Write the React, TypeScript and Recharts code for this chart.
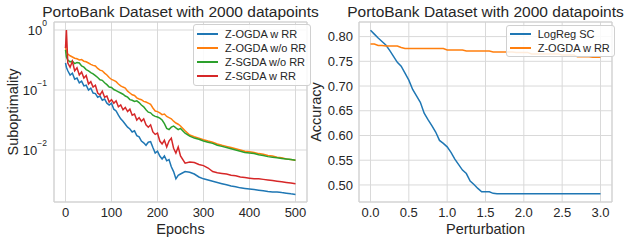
import { CartesianGrid, Label, Legend, Line, LineChart, ReferenceArea, XAxis, YAxis } from "recharts";

// left panel: suboptimality per epoch (log scale)
const epochs = [
  0, 2, 5, 10, 15, 20, 25, 30, 35, 40, 45, 50, 55, 60, 65, 70, 75, 80, 85, 90, 95, 100, 105, 110, 115,
  120, 125, 130, 135, 140, 145, 150, 155, 160, 165, 170, 175, 180, 185, 190, 195, 200, 205, 210, 215,
  220, 225, 230, 235, 240, 245, 250, 260, 270, 280, 290, 300, 310, 320, 330, 340, 350, 360, 370, 380,
  390, 400, 410, 420, 430, 440, 450, 460, 470, 480, 490, 500,
];
const zOgdaRR = [
  0.282, 0.24, 0.209, 0.178, 0.191, 0.151, 0.158, 0.132, 0.141, 0.117, 0.12, 0.1, 0.107, 0.0891, 0.0871,
  0.0759, 0.0794, 0.0676, 0.0708, 0.0603, 0.0562, 0.0603, 0.0479, 0.0447, 0.038, 0.0331, 0.0302, 0.0269,
  0.024, 0.0224, 0.02, 0.0209, 0.0174, 0.0166, 0.0141, 0.0132, 0.012, 0.0135, 0.0138, 0.011, 0.00891,
  0.00955, 0.00794, 0.00708, 0.00794, 0.00661, 0.00692, 0.00525, 0.00437, 0.00331, 0.0038, 0.00398,
  0.00437, 0.00427, 0.00398, 0.00355, 0.00331, 0.00316, 0.00302, 0.00288, 0.00275, 0.00263, 0.00251,
  0.00245, 0.00234, 0.00229, 0.00224, 0.00219, 0.00214, 0.00209, 0.00204, 0.002, 0.002, 0.00195, 0.00191,
  0.00186, 0.00182,
];
const zOgdaNoRR = [
  0.525, 0.437, 0.398, 0.372, 0.355, 0.339, 0.331, 0.316, 0.322, 0.302, 0.295, 0.282, 0.268, 0.257, 0.251,
  0.229, 0.214, 0.209, 0.191, 0.178, 0.162, 0.15, 0.145, 0.138, 0.126, 0.117, 0.112, 0.108, 0.0955, 0.0891,
  0.0832, 0.0813, 0.0741, 0.0708, 0.069, 0.0646, 0.0631, 0.0603, 0.0575, 0.0501, 0.0447, 0.0437, 0.0417,
  0.0389, 0.0398, 0.0363, 0.0347, 0.0331, 0.0302, 0.0282, 0.0269, 0.0251, 0.0209, 0.0178, 0.0166, 0.0158,
  0.0148, 0.0141, 0.0135, 0.0126, 0.012, 0.0115, 0.011, 0.0105, 0.01, 0.00955, 0.00933, 0.00912, 0.00871,
  0.00851, 0.00813, 0.00794, 0.00759, 0.00741, 0.00708, 0.00692, 0.00676,
];
const zSgdaNoRR = [
  0.468, 0.355, 0.316, 0.295, 0.302, 0.275, 0.288, 0.282, 0.251, 0.24, 0.219, 0.209, 0.195, 0.186, 0.174,
  0.162, 0.148, 0.145, 0.132, 0.123, 0.112, 0.11, 0.102, 0.0977, 0.0933, 0.0891, 0.0851, 0.0794, 0.0759,
  0.0692, 0.0676, 0.0646, 0.0661, 0.0617, 0.0562, 0.0525, 0.0468, 0.0427, 0.0417, 0.038, 0.0363, 0.0355,
  0.0339, 0.0316, 0.0275, 0.0229, 0.0219, 0.024, 0.0251, 0.0234, 0.0219, 0.0229, 0.0191, 0.017, 0.0158,
  0.0151, 0.0141, 0.0135, 0.0129, 0.012, 0.0115, 0.011, 0.0105, 0.01, 0.00955, 0.00912, 0.00891, 0.00871,
  0.00832, 0.00813, 0.00776, 0.00759, 0.00741, 0.00724, 0.00708, 0.00692, 0.00676,
];
const zSgdaRR = [
  0.501, 1.0, 0.282, 0.24, 0.302, 0.209, 0.234, 0.178, 0.2, 0.158, 0.174, 0.126, 0.138, 0.112, 0.12,
  0.0891, 0.0832, 0.0955, 0.0759, 0.0794, 0.0631, 0.0692, 0.0603, 0.0661, 0.0525, 0.0562, 0.0468, 0.0513,
  0.0437, 0.0479, 0.038, 0.0398, 0.0316, 0.0347, 0.0302, 0.0331, 0.0263, 0.024, 0.0263, 0.02, 0.0182,
  0.0191, 0.0141, 0.0126, 0.0145, 0.0112, 0.0141, 0.0158, 0.0107, 0.00891, 0.0112, 0.00794, 0.00603,
  0.00631, 0.00617, 0.00575, 0.0055, 0.00501, 0.00437, 0.00417, 0.00407, 0.00398, 0.0038, 0.00372, 0.00355,
  0.00347, 0.00339, 0.00331, 0.00331, 0.00324, 0.00316, 0.00309, 0.00302, 0.00295, 0.00288, 0.00282,
  0.00275,
];
const epochTicks = [0, 100, 200, 300, 400, 500];
const logTicks = [0.01, 0.1, 1];
const subNames = ["Z-OGDA w RR", "Z-OGDA w/o RR", "Z-SGDA w/o RR", "Z-SGDA w RR"];

// right panel: accuracy vs perturbation
const perturbation = [
  0, 0.05, 0.1, 0.15, 0.2, 0.25, 0.3, 0.35, 0.4, 0.45, 0.5, 0.55, 0.6, 0.65, 0.7, 0.75, 0.8, 0.85, 0.9,
  0.95, 1, 1.05, 1.1, 1.15, 1.2, 1.25, 1.3, 1.35, 1.4, 1.45, 1.5, 1.55, 1.6, 1.65, 1.7, 1.75, 1.8, 1.85,
  1.9, 1.95, 2, 2.05, 2.1, 2.15, 2.2, 2.25, 2.3, 2.35, 2.4, 2.45, 2.5, 2.55, 2.6, 2.65, 2.7, 2.75, 2.8,
  2.85, 2.9, 2.95, 3,
];
const logRegSC = [
  0.813, 0.805, 0.797, 0.79, 0.783, 0.772, 0.76, 0.748, 0.74, 0.726, 0.712, 0.693, 0.68, 0.667, 0.645,
  0.632, 0.62, 0.607, 0.59, 0.584, 0.577, 0.566, 0.552, 0.541, 0.53, 0.523, 0.508, 0.501, 0.493, 0.486,
  0.486, 0.486, 0.483, 0.482, 0.482, 0.482, 0.482, 0.482, 0.482, 0.482, 0.482, 0.482, 0.482, 0.482, 0.482,
  0.482, 0.482, 0.482, 0.482, 0.482, 0.482, 0.482, 0.482, 0.482, 0.482, 0.482, 0.482, 0.482, 0.482, 0.482,
  0.482,
];
const zOgdaAcc = [
  0.785, 0.785, 0.782, 0.782, 0.781, 0.781, 0.781, 0.781, 0.778, 0.776, 0.776, 0.776, 0.776, 0.776, 0.776,
  0.776, 0.776, 0.776, 0.776, 0.776, 0.773, 0.773, 0.773, 0.773, 0.773, 0.771, 0.771, 0.771, 0.771, 0.771,
  0.771, 0.771, 0.769, 0.769, 0.769, 0.769, 0.769, 0.769, 0.768, 0.768, 0.768, 0.768, 0.765, 0.765, 0.765,
  0.765, 0.765, 0.765, 0.765, 0.765, 0.763, 0.763, 0.763, 0.763, 0.759, 0.759, 0.759, 0.759, 0.758, 0.758,
  0.758,
];
const pertTicks = [0, 0.5, 1, 1.5, 2, 2.5, 3];
const accTicks = [0.5, 0.55, 0.6, 0.65, 0.7, 0.75, 0.8];
const accNames = ["LogReg SC", "Z-OGDA w RR"];

const INK = "#262626";
const GRID = "#d9d9d9";
const EDGE = "#d0d0d0";
const FONT = '"Liberation Sans", Arial, sans-serif';
const BLUE = "#1f77b4";
const ORANGE = "#ff7f0e";
const GREEN = "#2ca02c";
const RED = "#d62728";
const TICK = 13;
const LABEL = 14.5;

const subData = epochs.map((e, i) => ({
  epoch: e,
  ogdaRR: zOgdaRR[i],
  ogdaNoRR: zOgdaNoRR[i],
  sgdaNoRR: zSgdaNoRR[i],
  sgdaRR: zSgdaRR[i],
}));
const accData = perturbation.map((p, i) => ({ p, logreg: logRegSC[i], zogda: zOgdaAcc[i] }));

function LogTick({ x, y, payload }: { x?: number; y?: number; payload?: { value: number } }) {
  const exp = Math.round(Math.log10(payload?.value ?? 1));
  return (
    <text x={x} y={y} dy={4.5} textAnchor="end" fill={INK} fontSize={TICK}>
      <tspan>10</tspan>
      <tspan dy={-8.5} fontSize={8.5}>{exp === 0 ? "0" : "\u2212" + Math.abs(exp)}</tspan>
    </text>
  );
}

function BoxLegend({ payload, padY }: { payload?: { value: string; color: string }[]; padY: number }) {
  return (
    <div
      style={{
        background: "rgba(255,255,255,0.85)",
        border: `1px solid ${EDGE}`,
        borderRadius: 3,
        padding: `${padY}px 4px ${padY}px 3px`,
        fontSize: 11,
        color: INK,
      }}
    >
      {(payload ?? []).map((p) => (
        <div key={p.value} style={{ display: "flex", alignItems: "center", height: 14, whiteSpace: "nowrap" }}>
          <span style={{ display: "inline-block", width: 21, height: 2, background: p.color, marginRight: 7 }} />
          {p.value}
        </div>
      ))}
    </div>
  );
}

function Title({ center }: { center: number }) {
  return (
    <div
      style={{
        position: "absolute",
        left: center - 200,
        top: 3.5,
        width: 400,
        textAlign: "center",
        fontSize: 15.5,
        lineHeight: "15px",
        color: INK,
        whiteSpace: "nowrap",
      }}
    >
      PortoBank Dataset with 2000 datapoints
    </div>
  );
}

export default function App() {
  return (
    <div
      style={{
        position: "absolute",
        left: 0,
        top: 0,
        width: 626,
        height: 244,
        background: "#fff",
        fontFamily: FONT,
      }}
    >
      <div style={{ position: "absolute", left: 0, top: 0, width: 313, height: 244 }}>
        <LineChart width={313} height={244} data={subData} margin={{ top: 22, right: 6, bottom: 12, left: 0 }}>
          <CartesianGrid stroke={GRID} strokeWidth={1} />
          <ReferenceArea x1={-25} x2={525} y1={0.00136} y2={1.36} fill="none" stroke={EDGE} strokeWidth={1} />
          <XAxis
            dataKey="epoch"
            type="number"
            domain={[-25, 525]}
            ticks={epochTicks}
            height={30}
            tickLine={false}
            axisLine={false}
            tickSize={4}
            tick={{ fill: INK, fontSize: TICK }}
          >
            <Label
              content={() => (
                <text x={180.5} y={234} textAnchor="middle" fill={INK} fontSize={LABEL}>
                  Epochs
                </text>
              )}
            />
          </XAxis>
          <YAxis
            type="number"
            scale="log"
            domain={[0.00136, 1.36]}
            allowDataOverflow
            ticks={logTicks}
            width={54}
            tickLine={false}
            axisLine={false}
            tickSize={4}
            tickMargin={3}
            tick={<LogTick />}
          >
            <Label
              content={() => (
                <text x={18} y={112} transform="rotate(-90 18 112)" textAnchor="middle" fill={INK} fontSize={LABEL}>
                  Suboptimality
                </text>
              )}
            />
          </YAxis>
          <Line dataKey="ogdaRR" name={subNames[0]} stroke={BLUE} strokeWidth={1.5} dot={false} isAnimationActive={false} />
          <Line dataKey="ogdaNoRR" name={subNames[1]} stroke={ORANGE} strokeWidth={1.5} dot={false} isAnimationActive={false} />
          <Line dataKey="sgdaNoRR" name={subNames[2]} stroke={GREEN} strokeWidth={1.5} dot={false} isAnimationActive={false} />
          <Line dataKey="sgdaRR" name={subNames[3]} stroke={RED} strokeWidth={1.5} dot={false} isAnimationActive={false} />
          <Legend
            layout="vertical"
            align="center"
            verticalAlign="middle"
            itemSorter={(item) => subNames.indexOf(String(item.value))}
            wrapperStyle={{ left: 193, top: 24, width: "auto", height: "auto" }}
            content={(props) => <BoxLegend padY={2} payload={props.payload as { value: string; color: string }[]} />}
          />
        </LineChart>
        <Title center={180.5} />
      </div>
      <div style={{ position: "absolute", left: 300, top: 0, width: 326, height: 244 }}>
        <LineChart width={326} height={244} data={accData} margin={{ top: 22, right: 14, bottom: 12, left: 13 }}>
          <CartesianGrid stroke={GRID} strokeWidth={1} />
          <ReferenceArea x1={-0.15} x2={3.15} y1={0.4655} y2={0.8295} fill="none" stroke={EDGE} strokeWidth={1} />
          <XAxis
            dataKey="p"
            type="number"
            domain={[-0.15, 3.15]}
            ticks={pertTicks}
            height={30}
            tickLine={false}
            axisLine={false}
            tickSize={4}
            tickFormatter={(v: number) => v.toFixed(1)}
            tick={{ fill: INK, fontSize: TICK }}
          >
            <Label
              content={() => (
                <text x={185.5} y={234} textAnchor="middle" fill={INK} fontSize={LABEL}>
                  Perturbation
                </text>
              )}
            />
          </XAxis>
          <YAxis
            type="number"
            domain={[0.4655, 0.8295]}
            allowDataOverflow
            ticks={accTicks}
            width={46}
            tickLine={false}
            axisLine={false}
            tickSize={4}
            tickMargin={2}
            tickFormatter={(v: number) => v.toFixed(2)}
            tick={{ fill: INK, fontSize: TICK }}
          >
            <Label
              content={() => (
                <text x={20.5} y={112} transform="rotate(-90 20.5 112)" textAnchor="middle" fill={INK} fontSize={LABEL}>
                  Accuracy
                </text>
              )}
            />
          </YAxis>
          <Line dataKey="logreg" name={accNames[0]} stroke={BLUE} strokeWidth={1.5} dot={false} isAnimationActive={false} />
          <Line dataKey="zogda" name={accNames[1]} stroke={ORANGE} strokeWidth={1.5} dot={false} isAnimationActive={false} />
          <Legend
            layout="vertical"
            align="center"
            verticalAlign="middle"
            itemSorter={(item) => accNames.indexOf(String(item.value))}
            wrapperStyle={{ left: 205.7, top: 25, width: "auto", height: "auto" }}
            content={(props) => <BoxLegend padY={1} payload={props.payload as { value: string; color: string }[]} />}
          />
        </LineChart>
        <Title center={185.5} />
      </div>
    </div>
  );
}
